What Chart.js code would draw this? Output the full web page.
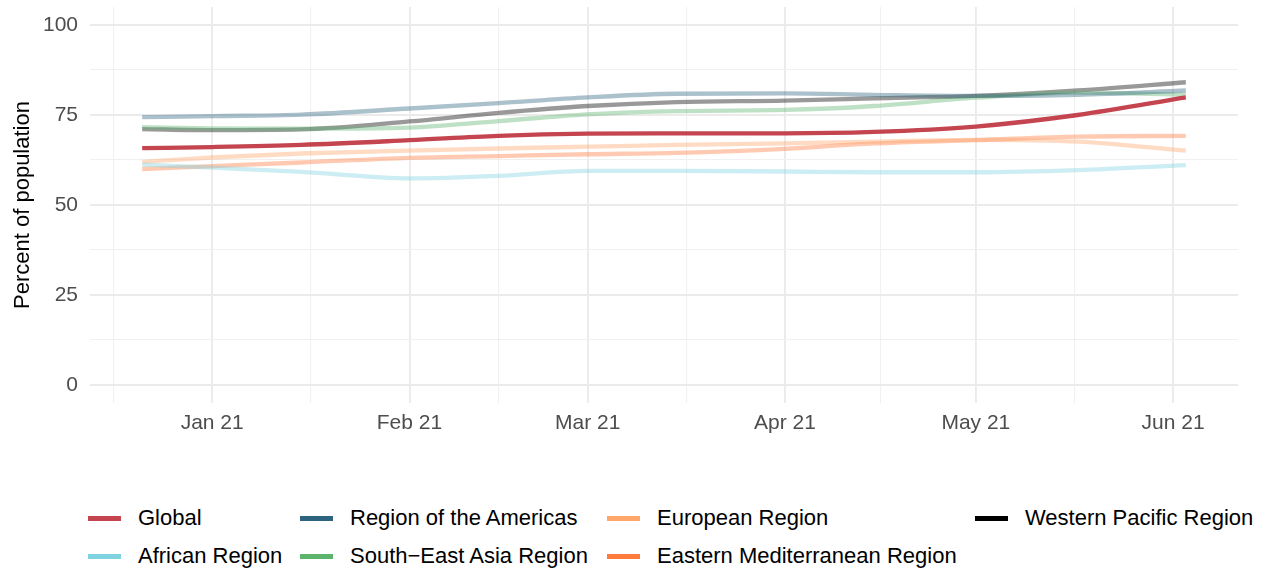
<!DOCTYPE html>
<html>
<head>
<meta charset="utf-8">
<script src="https://cdn.jsdelivr.net/npm/chart.js@4.4.1/dist/chart.umd.min.js"></script>
<style>
  html, body { margin: 0; padding: 0; background: #ffffff; }
  #wrap { position: relative; width: 1265px; height: 572px; font-family: "Liberation Sans", Arial, sans-serif; }
  #chartBox { position: absolute; left: 0; top: 0; width: 1265px; height: 440px; }
  .lg { position: absolute; display: flex; align-items: center; height: 30px; white-space: nowrap; font-size: 22px; color: #000; }
  .lg .key { width: 33px; height: 5px; margin-right: 17px; }
</style>
</head>
<body>
<div id="wrap">
  <div id="chartBox"><canvas id="c"></canvas></div>
  <div id="legend"></div>
</div>
<script>
// Days since 1 Jan 2021
const days = [-11, 0, 14, 31, 45, 59, 73, 90, 104, 120, 136, 153];

const seriesNames = ["Global", "African Region", "Region of the Americas", "South\u2212East Asia Region",
                     "European Region", "Eastern Mediterranean Region", "Western Pacific Region"];

const globalVals       = [65.8, 66.1, 66.7, 68.0, 69.2, 69.8, 69.9, 69.9, 70.3, 71.8, 75.0, 79.9];
const africanVals      = [61.2, 60.4, 59.2, 57.4, 58.1, 59.5, 59.5, 59.3, 59.1, 59.1, 59.7, 61.1];
const americasVals     = [74.4, 74.7, 75.1, 76.8, 78.3, 79.9, 80.9, 81.0, 80.6, 80.3, 80.6, 81.8];
const seAsiaVals       = [71.6, 71.3, 71.2, 71.5, 73.3, 75.2, 76.1, 76.4, 77.5, 79.8, 81.2, 80.6];
const europeanVals     = [62.0, 63.2, 64.3, 65.1, 65.7, 66.2, 66.7, 67.1, 67.6, 68.1, 67.6, 65.1];
const eastMedVals      = [60.0, 60.8, 61.8, 63.1, 63.6, 64.1, 64.5, 65.6, 67.1, 68.0, 69.0, 69.2];
const westPacVals      = [71.1, 70.8, 71.0, 73.2, 75.6, 77.5, 78.6, 79.0, 79.6, 80.3, 81.8, 84.1];

const seriesValues = [globalVals, africanVals, americasVals, seAsiaVals, europeanVals, eastMedVals, westPacVals];
const seriesColors = ["#C4444F", "#7FD3E0", "#2E6480", "#5DB56D", "#FFA66B", "#FF7A3D", "#000000"];
const seriesAlpha  = [1, 0.4, 0.4, 0.4, 0.4, 0.4, 0.4];

const monthTicks  = [0, 31, 59, 90, 120, 151];
const monthLabels = ["Jan 21", "Feb 21", "Mar 21", "Apr 21", "May 21", "Jun 21"];
const prevMonthTick = -31;

const yTicks  = [0, 25, 50, 75, 100];
const yLabels = ["0", "25", "50", "75", "100"];

function rgba(hex, a) {
  const n = parseInt(hex.slice(1), 16);
  return `rgba(${(n >> 16) & 255},${(n >> 8) & 255},${n & 255},${a})`;
}

// minor x ticks at midpoints between month starts
const allMonth = [prevMonthTick].concat(monthTicks);
const xMinor = [];
for (let i = 1; i < allMonth.length; i++) xMinor.push((allMonth[i - 1] + allMonth[i]) / 2);
const xAll = monthTicks.concat(xMinor).sort((a, b) => a - b);

const yMinor = [];
for (let i = 1; i < yTicks.length; i++) yMinor.push((yTicks[i - 1] + yTicks[i]) / 2);
const yAll = yTicks.concat(yMinor).sort((a, b) => a - b);

const datasets = seriesNames.map((name, i) => ({
  label: name,
  data: days.map((d, j) => ({ x: d, y: seriesValues[i][j] })),
  borderColor: rgba(seriesColors[i], seriesAlpha[i]),
  backgroundColor: rgba(seriesColors[i], seriesAlpha[i]),
  borderWidth: 4.3,
  pointRadius: 0,
  fill: false,
  cubicInterpolationMode: 'monotone',
  order: i === 0 ? 0 : 1
}));

const FONT = "'Liberation Sans', Arial, sans-serif";

function zeroPad(s) { s.paddingTop = 0; s.paddingBottom = 0; s.paddingLeft = 0; s.paddingRight = 0; }

new Chart(document.getElementById('c'), {
  type: 'line',
  data: { datasets },
  options: {
    responsive: true,
    maintainAspectRatio: false,
    animation: false,
    layout: { padding: { left: 0, right: 27, top: 7, bottom: 0 } },
    plugins: { legend: { display: false }, tooltip: { enabled: false } },
    scales: {
      x: {
        type: 'linear',
        min: -19.2,
        max: 161.2,
        border: { display: false },
        afterBuildTicks: (s) => { s.ticks = xAll.map(v => ({ value: v })); },
        afterFit: (s) => { s.height = 37; zeroPad(s); },
        grid: {
          drawTicks: false,
          color: (ctx) => (ctx.tick && monthTicks.includes(ctx.tick.value)) ? '#EBEBEB' : '#F0F0F0',
          lineWidth: (ctx) => (ctx.tick && monthTicks.includes(ctx.tick.value)) ? 1.9 : 1.1
        },
        ticks: {
          autoSkip: false,
          maxRotation: 0,
          padding: 8,
          color: '#4D4D4D',
          font: { family: FONT, size: 21 },
          callback: (v) => { const k = monthTicks.indexOf(v); return k >= 0 ? monthLabels[k] : ''; }
        }
      },
      y: {
        type: 'linear',
        min: -5,
        max: 105,
        border: { display: false },
        afterBuildTicks: (s) => { s.ticks = yAll.map(v => ({ value: v })); },
        afterFit: (s) => { s.width = 90; zeroPad(s); },
        grid: {
          drawTicks: false,
          color: (ctx) => (ctx.tick && yTicks.includes(ctx.tick.value)) ? '#EBEBEB' : '#F0F0F0',
          lineWidth: (ctx) => (ctx.tick && yTicks.includes(ctx.tick.value)) ? 1.9 : 1.1
        },
        ticks: {
          autoSkip: false,
          padding: 12,
          color: '#4D4D4D',
          font: { family: FONT, size: 21 },
          callback: (v) => { const k = yTicks.indexOf(v); return k >= 0 ? yLabels[k] : ''; }
        },
        title: {
          display: true,
          text: 'Percent of population',
          color: '#000000',
          font: { family: FONT, size: 22 },
          padding: { top: 10, bottom: 0 }
        }
      }
    }
  }
});

// HTML legend, filled column-wise (2 rows)
const legendCols = [88, 300, 607, 975];
const legendRows = [503, 541];
const lg = document.getElementById('legend');
seriesNames.forEach((name, i) => {
  const col = Math.floor(i / 2), row = i % 2;
  const el = document.createElement('div');
  el.className = 'lg';
  el.style.left = legendCols[col] + 'px';
  el.style.top = legendRows[row] + 'px';
  const key = document.createElement('span');
  key.className = 'key';
  key.style.background = seriesColors[i];
  const txt = document.createElement('span');
  txt.textContent = name;
  el.appendChild(key);
  el.appendChild(txt);
  lg.appendChild(el);
});
</script>
</body>
</html>
